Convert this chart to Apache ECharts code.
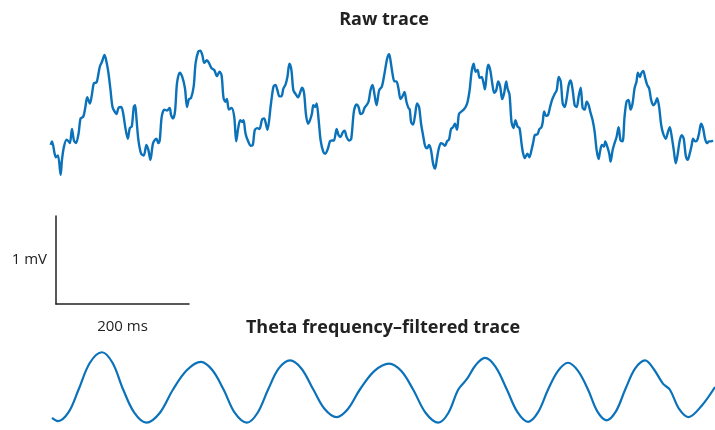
<!DOCTYPE html>
<html>
<head>
<meta charset="utf-8">
<script src="https://cdn.jsdelivr.net/npm/echarts@6/dist/echarts.min.js"></script>
<style>html,body{margin:0;padding:0;background:#fff}#c{width:715px;height:430px}</style>
</head>
<body>
<div id="c"></div>
<script>
// Raw trace: time (ms) and voltage (mV)
const rawMs = [1,3,7,9,12,16,18,21,25,28,30,33,36,39,43,46,50,53,56,60,63,66,70,72,75,78,82,85,88,91,94,97,100,103,107,110,113,117,120,123,126,128,130,133,137,141,145,148,151,155,160,163,
165,168,172,176,180,182,185,188,191,195,199,203,206,209,212,216,219,223,226,229,232,236,239,243,247,251,255,258,261,264,266,269,273,277,280,283,286,289,291,294,298,302,305,308,312,315,319,322,324,327,
332,336,339,342,345,348,351,354,357,360,363,366,370,373,376,379,382,385,388,391,394,396,399,401,404,407,411,414,418,421,424,427,431,434,437,440,443,446,450,453,457,461,464,467,470,473,476,479,482,485,488,491,495,
499,503,507,510,512,515,518,521,524,527,530,533,536,539,541,543,546,549,552,555,558,561,564,567,570,573,576,579,582,585,588,591,594,597,600,603,606,609,612,615,619,622,625,628,631,634,637,640,643,646,649,652,654,657,659,662,
665,668,671,674,677,680,683,686,688,691,694,697,700,703,706,709,711,714,718,721,724,727,729,733,736,739,741,743,746,749,752,755,759,762,765,768,771,774,777,780,783,786,789,792,795,798,801,804,807,810,813,816,819,822,825,
827,830,833,835,838,841,843,846,849,852,855,858,861,864,867,870,873,876,879,882,884,887,889,892,895,898,901,904,907,910,913,916,919,922,926,929,932,935,938,941,944,947,950,953,956,959,962,965,967,970,973,976,979,982,985,988,991,994,997];
const rawMv = [-0.39,-0.35,-0.49,-0.53,-0.51,-0.73,-0.56,-0.41,-0.33,-0.35,-0.37,-0.21,-0.34,-0.37,-0.26,-0.09,-0.07,0.03,0.15,0.08,0.18,0.31,0.32,0.38,0.50,0.55,0.63,0.55,0.42,0.23,0.04,-0.01,-0.04,0.03,0.04,-0.03,-0.18,-0.32,-0.20,-0.18,0.04,0.06,-0.09,-0.34,-0.49,-0.51,-0.39,-0.45,-0.56,-0.37,-0.32,-0.37,
-0.34,-0.07,0.01,0.00,0.03,-0.05,-0.09,-0.01,0.31,0.43,0.38,0.25,0.04,0.13,0.14,0.27,0.54,0.67,0.68,0.63,0.54,0.57,0.54,0.48,0.46,0.39,0.44,0.40,0.14,0.10,0.13,0.01,0.03,-0.07,-0.35,-0.20,-0.11,-0.13,-0.11,-0.26,-0.35,-0.40,-0.39,-0.22,-0.20,-0.21,-0.10,-0.09,-0.13,-0.22,
0.06,0.27,0.29,0.23,0.16,0.16,0.25,0.29,0.38,0.53,0.46,0.23,0.18,0.15,0.20,0.26,0.20,-0.05,-0.15,-0.11,-0.03,0.06,0.04,0.08,-0.11,-0.34,-0.47,-0.49,-0.43,-0.35,-0.34,-0.34,-0.21,-0.28,-0.30,-0.25,-0.23,-0.30,-0.34,-0.32,-0.01,0.07,0.04,-0.04,-0.03,0.03,0.06,0.10,0.23,0.29,0.18,0.06,0.23,
0.27,0.42,0.59,0.64,0.57,0.42,0.33,0.33,0.25,0.13,0.16,0.21,0.10,0.03,0.01,-0.13,-0.16,-0.05,0.08,0.04,-0.15,-0.28,-0.40,-0.43,-0.39,-0.45,-0.60,-0.66,-0.54,-0.42,-0.37,-0.38,-0.40,-0.35,-0.33,-0.21,-0.19,-0.15,-0.22,-0.04,-0.01,0.01,0.04,0.10,0.23,0.44,0.53,0.44,0.46,0.37,0.38,0.31,0.24,0.44,0.52,0.46,
0.31,0.20,0.23,0.33,0.27,0.13,0.20,0.33,0.25,0.18,-0.13,-0.20,-0.11,-0.18,-0.20,-0.37,-0.47,-0.54,-0.49,-0.53,-0.45,-0.35,-0.28,-0.27,-0.21,-0.19,-0.13,-0.01,-0.06,-0.05,0.04,0.12,0.19,0.23,0.38,0.33,0.08,0.04,0.14,0.29,0.34,0.23,0.06,0.04,0.16,0.26,0.03,0.01,0.10,0.06,-0.03,-0.11,-0.24,-0.45,-0.55,
-0.47,-0.39,-0.41,-0.35,-0.41,-0.49,-0.58,-0.45,-0.37,-0.30,-0.19,-0.34,-0.35,-0.07,0.10,0.12,0.01,0.08,0.25,0.33,0.43,0.38,0.42,0.45,0.37,0.29,0.25,0.12,0.06,0.08,0.14,0.04,-0.16,-0.26,-0.32,-0.25,-0.19,-0.30,-0.45,-0.60,-0.49,-0.34,-0.28,-0.32,-0.51,-0.56,-0.49,-0.39,-0.32,-0.35,-0.34,-0.26,-0.15,-0.20,-0.32,-0.37,-0.35,-0.35,-0.34];

// Theta frequency-filtered trace: time (ms) and voltage (mV)
const thetaMs = [3,12,28,43,60,78,94,110,127,145,165,185,206,227,244,261,278,296,312,328,344,361,378,396,413,431,448,466,488,510,528,546,565,584,599,614,627,640,654,670,687,703,719,734,749,764,779,794,809,823,837,851,865,880,895,908,922,932,946,960,980,1000];
const thetaMv = [-0.35,-0.39,-0.28,0,0.33,0.46,0.33,0,-0.29,-0.41,-0.29,0,0.24,0.34,0.24,0,-0.29,-0.41,-0.29,0,0.26,0.36,0.26,0,-0.24,-0.34,-0.24,0,0.23,0.32,0.23,0,-0.29,-0.41,-0.29,0,0.13,0.30,0.39,0.28,0,-0.28,-0.40,-0.28,0,0.23,0.33,0.23,0,-0.27,-0.38,-0.27,0,0.26,0.36,0.25,0.07,0,-0.24,-0.34,-0.20,0.03];

// Scale bar values
const scaleBarMs = 200;
const scaleBarMv = 1;
const scaleBarTimeLabel = '200 ms';
const scaleBarVoltLabel = '1 mV';

const titles = ['Raw trace', 'Theta frequency\u2013filtered trace'];

const blue = '#0b72b9';
const font = '"Open Sans", "Noto Sans", sans-serif';

const zip = (a, b) => a.map((v, i) => [v, b[i]]);

const chart = echarts.init(document.getElementById('c'), null, {renderer: 'canvas'});
chart.setOption({
  animation: false,
  backgroundColor: '#fff',
  grid: [
    {left: 50, width: 665, top: 40, height: 141},
    {left: 50, width: 665, top: 349, height: 88},
    {left: 56, width: 133, top: 216, height: 88}
  ],
  xAxis: [
    {gridIndex: 0, type: 'value', min: 0, max: 1000, show: false},
    {gridIndex: 1, type: 'value', min: 0, max: 1000, show: false},
    {gridIndex: 2, type: 'value', min: 0, max: scaleBarMs,
     axisLine: {show: true, onZero: false, lineStyle: {color: '#222', width: 1.5}},
     axisTick: {show: false}, axisLabel: {show: false}, splitLine: {show: false},
     name: scaleBarTimeLabel, nameLocation: 'middle', nameGap: 15,
     nameTextStyle: {fontFamily: font, fontSize: 15, color: '#222'}}
  ],
  yAxis: [
    {gridIndex: 0, type: 'value', min: -0.8, max: 0.8, show: false},
    {gridIndex: 1, type: 'value', min: -0.5, max: 0.5, show: false},
    {gridIndex: 2, type: 'value', min: 0, max: scaleBarMv,
     axisLine: {show: true, onZero: false, lineStyle: {color: '#222', width: 1.5}},
     axisTick: {show: false}, axisLabel: {show: false}, splitLine: {show: false},
     name: scaleBarVoltLabel, nameLocation: 'middle', nameRotate: 0, nameGap: 9,
     nameTextStyle: {fontFamily: font, fontSize: 15, color: '#222', align: 'right'}}
  ],
  graphic: [
    {type: 'text', x: 384, y: 20, style: {text: titles[0], align: 'center', verticalAlign: 'middle',
      fontFamily: font, fontSize: 18, fontWeight: 'bold', fill: '#222'}},
    {type: 'text', x: 383, y: 328, style: {text: titles[1], align: 'center', verticalAlign: 'middle',
      fontFamily: font, fontSize: 18, fontWeight: 'bold', fill: '#222'}}
  ],
  series: [
    {type: 'line', xAxisIndex: 0, yAxisIndex: 0, data: zip(rawMs, rawMv), showSymbol: false,
     smooth: 0.3, lineStyle: {color: blue, width: 2.4}},
    {type: 'line', xAxisIndex: 1, yAxisIndex: 1, data: zip(thetaMs, thetaMv), showSymbol: false,
     smooth: 0.35, lineStyle: {color: blue, width: 2.2}}
  ]
});
</script>
</body>
</html>
